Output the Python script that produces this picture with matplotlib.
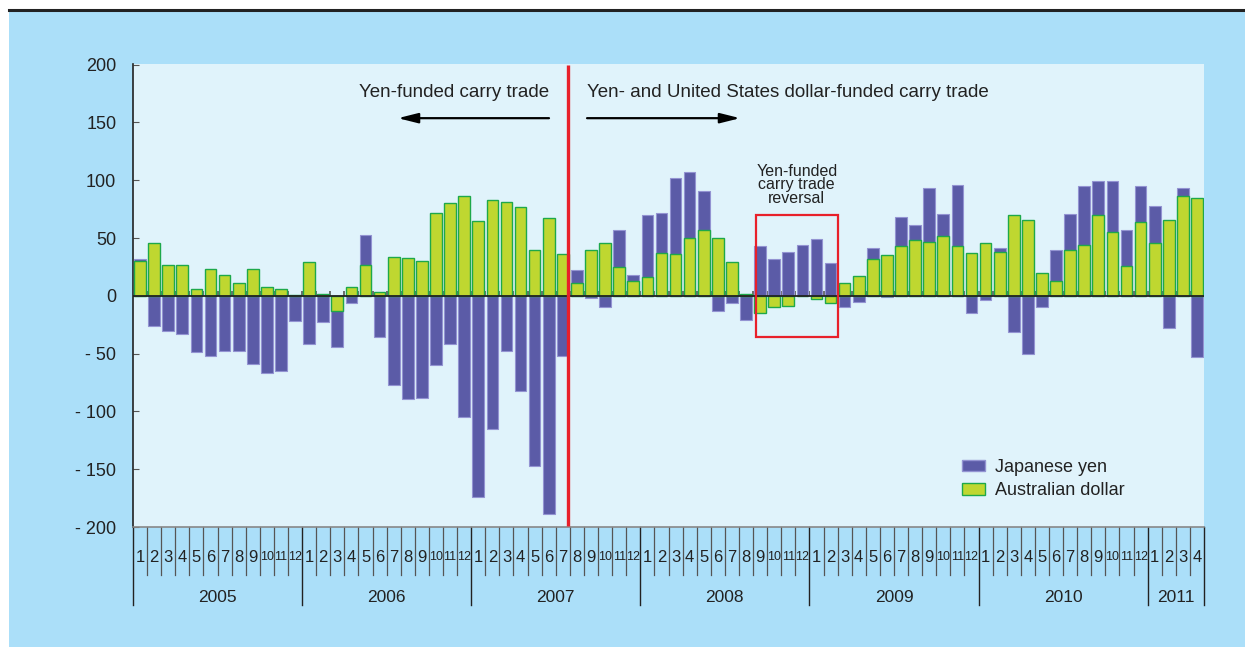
import matplotlib
matplotlib.use("Agg")
import matplotlib.pyplot as plt
import matplotlib.transforms as mtransforms
from matplotlib.patches import Rectangle, Patch
import numpy as np

plt.rcParams['font.family'] = ['Liberation Sans', 'DejaVu Sans']

# monthly data, Jan 2005 - Apr 2011
years = ['2005', '2006', '2007', '2008', '2009', '2010', '2011']
months_per_year = [12, 12, 12, 12, 12, 12, 4]

japanese_yen = [
    32, -26, -30, -33, -49, -52, -48, -48, -59, -67, -65, -22,
    -42, -23, -44, -6, 53, -36, -77, -89, -88, -60, -42, -105,
    -174, -115, -48, -82, -147, -189, -52, 22, -2, -10, 57, 18,
    70, 72, 102, 107, 91, -13, -6, -21, 43, 32, 38, 44,
    49, 28, -10, -5, 41, -1, 68, 61, 93, 71, 96, -15,
    -4, 41, -31, -50, -10, 40, 71, 95, 99, 99, 57, 95,
    78, -28, 93, -53,
]
australian_dollar = [
    30, 46, 27, 27, 6, 23, 18, 11, 23, 8, 6, 1,
    29, 2, -13, 8, 27, 3, 34, 33, 30, 72, 80, 86,
    65, 83, 81, 77, 40, 67, 36, 11, 40, 46, 25, 13,
    16, 37, 36, 50, 57, 50, 29, 1.5, -15, -10, -9, 0,
    -3, -6, 11.5, 17, 32, 35, 43, 48, 47, 52, 43, 37,
    46, 38, 70, 66, 20, 13, 40, 44, 70, 55, 26, 64,
    46, 66, 86, 85,
]
y_ticks = [-200, -150, -100, -50, 0, 50, 100, 150, 200]

OUTER = '#abdff9'
PANEL = '#e0f3fb'
PURPLE = '#5b5ba7'
GREEN = '#bfd730'
RED = '#e8202a'

n = len(japanese_yen)
x = np.arange(n) + 0.5

fig = plt.figure(figsize=(12.45, 6.47), dpi=100, facecolor='white')

# background: outer blue frame + top rule
bg = fig.add_axes([0, 0, 1, 1], zorder=-10)
bg.set_xlim(0, 1245)
bg.set_ylim(647, 0)
bg.axis('off')
bg.add_patch(Rectangle((9, 11), 1245, 647, facecolor=OUTER, edgecolor='none'))
bg.plot([9, 1245], [10, 10], color='#222222', lw=2.2)

ax = fig.add_axes([133 / 1245, 1 - 527 / 647, (1204 - 133) / 1245, (527 - 63.5) / 647])
ax.set_facecolor(PANEL)
ax.set_xlim(0, n)
ax.set_ylim(-200, 201)

ax.bar(x, japanese_yen, width=0.83, color=PURPLE, edgecolor='#9393d2', linewidth=0.8, zorder=3)
ax.bar(x, australian_dollar, width=0.83, color=GREEN, edgecolor='#1ea84a', linewidth=1.0, zorder=4)

# zero line with month ticks
ax.axhline(0, color='#222222', lw=1.3, zorder=5)
ax.vlines(np.arange(1, n), 0, 4.5, color='#555555', lw=1.2, zorder=2)

# spines and y axis
for s in ['top', 'right']:
    ax.spines[s].set_visible(False)
ax.spines['left'].set_color('#222222')
ax.spines['left'].set_linewidth(1.2)
ax.spines['bottom'].set_color('#888888')
ax.spines['bottom'].set_linewidth(1.2)
ax.set_yticks(y_ticks)
ax.set_yticklabels([f'- {abs(v)}' if v < 0 else str(v) for v in y_ticks])
ax.tick_params(axis='y', direction='in', length=4, color='#555555', pad=12,
               labelsize=13, labelcolor='#222222')

# x axis: month separators and year separators
ax.set_xticks([])
trans = mtransforms.blended_transform_factory(ax.transData, ax.transAxes)
px = 1 / 463.5
boundaries = np.arange(0, n + 1)
year_starts = np.cumsum([0] + months_per_year)
for b in boundaries:
    if b in year_starts:
        ax.plot([b, b], [0, -78 * px], transform=trans, color='#222222', lw=1.0, clip_on=False)
    else:
        ax.plot([b, b], [0, -48 * px], transform=trans, color='#555555', lw=0.9, clip_on=False)
k = 0
for yr, cnt in zip(years, months_per_year):
    for m in range(cnt):
        lab = str(m + 1)
        ax.text(k + m + 0.5, -30 * px, lab, transform=trans, ha='center', va='center',
                fontsize=12 if len(lab) == 1 else 9, color='#222222')
    ax.text(k + cnt / 2, -70 * px, yr, transform=trans, ha='center', va='center',
            fontsize=12.5, color='#222222')
    k += cnt

# red divider
ax.plot([30.9, 30.9], [-199, 200], color=RED, lw=2.4, zorder=6, solid_capstyle='butt')

# annotations
ax.text(29.52, 175.5, 'Yen-funded carry trade', ha='right', va='center', fontsize=13.5, color='#222222')
ax.text(32.22, 175.5, 'Yen- and United States dollar-funded carry trade', ha='left', va='center',
        fontsize=13.5, color='#222222')
arrow_kw = dict(arrowstyle='-|>,head_length=1.2,head_width=0.3', color='black', lw=1.6,
                shrinkA=0, shrinkB=0)
ax.annotate('', xy=(18.8, 153.7), xytext=(29.52, 153.7), arrowprops=arrow_kw, zorder=6)
ax.annotate('', xy=(43.08, 153.7), xytext=(32.22, 153.7), arrowprops=arrow_kw, zorder=6)

ax.add_patch(Rectangle((44.22, -36), 50.04 - 44.22, 69.7 + 36, fill=False, edgecolor=RED,
                       lw=1.6, zorder=7))
ax.text(47.1, 96, 'Yen-funded\ncarry trade\nreversal', ha='center', va='center', fontsize=11.5,
        linespacing=0.9, color='#222222')

handles = [Patch(facecolor=PURPLE, edgecolor='#9393d2', label='Japanese yen'),
           Patch(facecolor=GREEN, edgecolor='#1ea84a', label='Australian dollar')]
ax.legend(handles=handles, loc='upper left', bbox_to_anchor=((962 - 133) / 1071, (527 - 459) / 463.5),
          frameon=False, fontsize=13, handlelength=1.3, handleheight=0.6, handletextpad=0.55,
          labelspacing=0.35, borderpad=0, borderaxespad=0, labelcolor='#222222')

fig.savefig('out.png', dpi=100, facecolor=fig.get_facecolor())
